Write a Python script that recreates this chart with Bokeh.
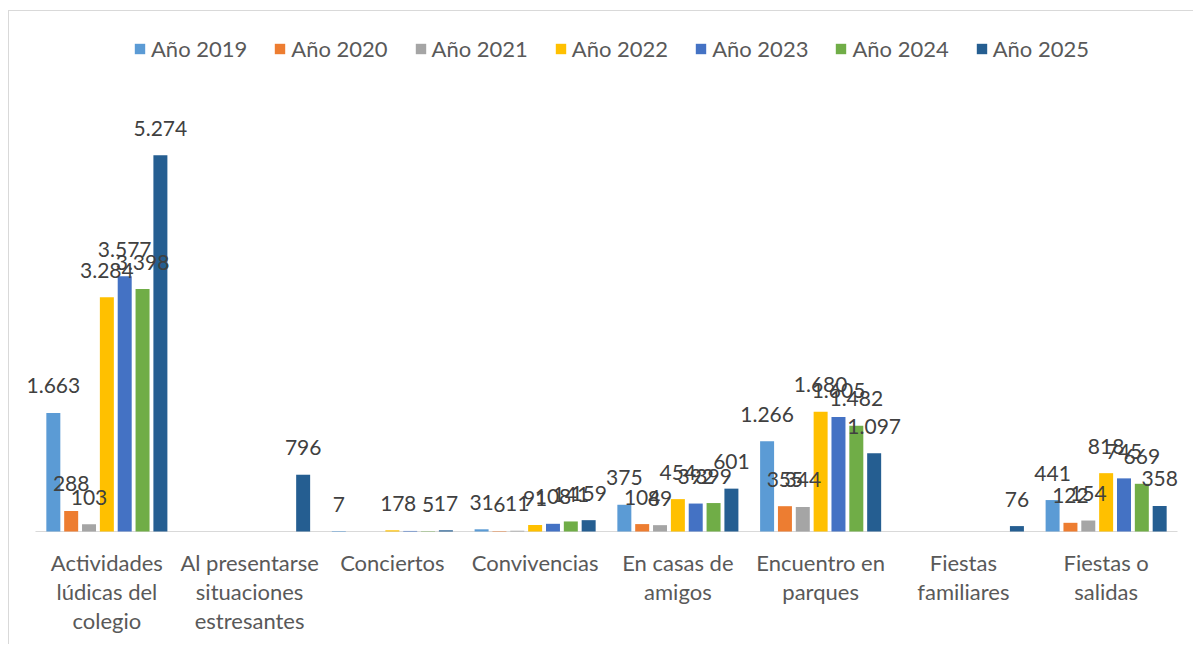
from bokeh.plotting import figure
from bokeh.models import ColumnDataSource, FactorRange, Range1d, Legend, LegendItem
from bokeh.transform import dodge
from bokeh.core.properties import value
from bokeh.embed import file_html
from bokeh.resources import INLINE

categories = ["Actividades lúdicas del colegio", "Al presentarse situaciones estresantes",
              "Conciertos", "Convivencias", "En casas de amigos", "Encuentro en parques",
              "Fiestas familiares", "Fiestas o salidas"]
category_labels = ["Actividades\nlúdicas del\ncolegio", "Al presentarse\nsituaciones\nestresantes",
                   "Conciertos", "Convivencias", "En casas de\namigos", "Encuentro en\nparques",
                   "Fiestas\nfamiliares", "Fiestas o\nsalidas"]
years = ["Año 2019", "Año 2020", "Año 2021", "Año 2022", "Año 2023", "Año 2024", "Año 2025"]
v2019 = [1663, None, 7, 31, 375, 1266, None, 441]
v2020 = [288, None, None, 6, 104, 355, None, 122]
v2021 = [103, None, None, 11, 89, 344, None, 154]
v2022 = [3284, None, 17, 91, 454, 1680, None, 818]
v2023 = [3577, None, 8, 108, 392, 1605, None, 745]
v2024 = [3398, None, 5, 141, 399, 1482, None, 669]
v2025 = [5274, 796, 17, 159, 601, 1097, 76, 358]
series = [v2019, v2020, v2021, v2022, v2023, v2024, v2025]
colors = ["#5B9BD5", "#ED7D31", "#A5A5A5", "#FFC000", "#4472C4", "#70AD47", "#255E91"]

FONT = "Lato"

# frame covers the whole canvas so legend and category labels live inside it
xr = FactorRange(*categories, range_padding=0.119, range_padding_units="absolute")
p = figure(x_range=xr, y_range=Range1d(-1598, 7290),
           width=1185, height=634, output_backend="svg", toolbar_location=None,
           min_border_left=9, min_border_right=0, min_border_top=0, min_border_bottom=0)
p.styles = {"margin-left": "8px", "margin-top": "10px",
            "border-top": "1px solid #d9d9d9", "border-left": "1px solid #d9d9d9"}
p.background_fill_color = "white"
p.border_fill_color = "white"
p.outline_line_color = None
p.grid.visible = False
p.xaxis.visible = False
p.yaxis.visible = False

# category axis baseline
base_src = ColumnDataSource(dict(c0=[categories[0]], c1=[categories[-1]], y=[0]))
p.segment(x0=dodge("c0", -0.5, range=xr), x1=dodge("c1", 0.5, range=xr), y0="y", y1="y",
          source=base_src, line_color="#d9d9d9", line_width=1)

items = []
sources = []
for i, (yr, vals, col) in enumerate(zip(years, series, colors)):
    cats = [c for c, v in zip(categories, vals) if v is not None]
    vs = [v for v in vals if v is not None]
    labs = [f"{v:,}".replace(",", ".") for v in vs]
    src = ColumnDataSource(dict(cat=cats, val=vs, lab=labs))
    sources.append(src)
    off = (i - 3) * 0.125
    r = p.vbar(x=dodge("cat", off, range=xr), top="val", width=0.098, source=src,
               fill_color=col, line_color=None)
    items.append(LegendItem(label=yr, renderers=[r]))

# data labels drawn after all bars, as in the original
for i, src in enumerate(sources):
    off = (i - 3) * 0.125
    p.text(x=dodge("cat", off, range=xr), y="val", text="lab", source=src,
           text_align="center", text_baseline="alphabetic", y_offset=-27,
           text_font=value(FONT), text_font_size="21px", text_color="#404040")

cat_src = ColumnDataSource(dict(cat=categories, lab=category_labels, y=[0] * len(categories)))
p.text(x="cat", y="y", text="lab", source=cat_src, text_align="center", text_baseline="top",
       y_offset=17, text_line_height=1.08,
       text_font=value(FONT), text_font_size="22px", text_color="#595959")

legend = Legend(items=items, orientation="horizontal", location=(115, 583),
                glyph_width=13, glyph_height=13, label_standoff=5, spacing=26,
                padding=0, margin=0, border_line_color=None, background_fill_alpha=0,
                label_text_font=FONT, label_text_font_size="22px", label_text_color="#595959")
p.add_layout(legend, "center")

open("out.html", "w").write(file_html(p, INLINE))
